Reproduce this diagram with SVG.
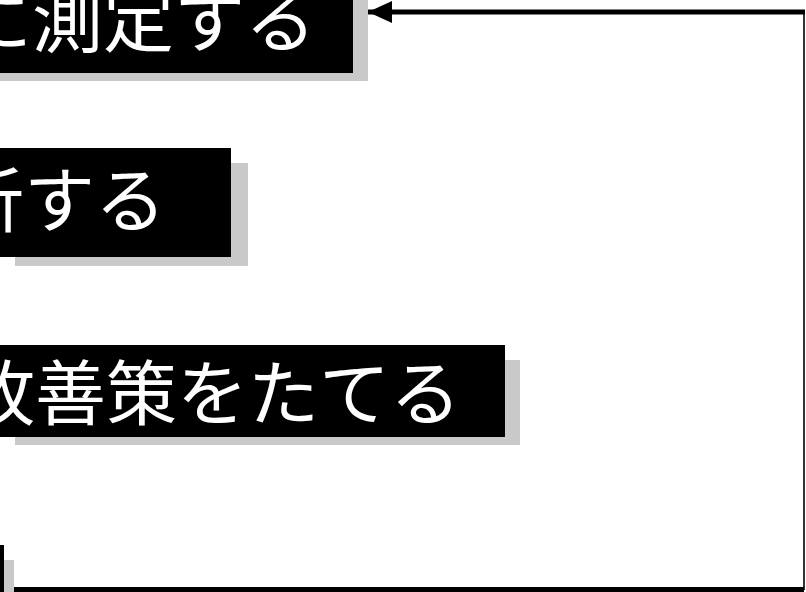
<svg xmlns="http://www.w3.org/2000/svg" width="806" height="592" viewBox="0 0 806 592">
<defs>
<style>
.box{fill:#000}
.shadow{fill:#c9c9c9}
.lbl{font-family:"Noto Sans CJK JP","Noto Sans CJK SC",sans-serif;font-size:71px;fill:#fff;text-anchor:end}
.conn{fill:none;stroke:#000;stroke-linejoin:miter}
</style>
<marker id="arrow" markerUnits="userSpaceOnUse" markerWidth="24" markerHeight="22" refX="24" refY="11" orient="auto">
<path d="M0,0 L24,11 L0,22 z" fill="#000"/>
</marker>
</defs>
<rect width="806" height="592" fill="#fff"/>
<g id="node1">
<rect class="shadow" x="0" y="0" width="368" height="81"/>
<rect class="box" x="0" y="0" width="353" height="73"/>
<text class="lbl" x="316" y="46">に測定する</text>
</g>
<g id="node2">
<rect class="shadow" x="15" y="163" width="233" height="103"/>
<rect class="box" x="0" y="148" width="231" height="109"/>
<text class="lbl" x="166" y="226">析する</text>
</g>
<g id="node3">
<rect class="shadow" x="15" y="360" width="505" height="85"/>
<rect class="box" x="0" y="345" width="505" height="92"/>
<text class="lbl" x="461" y="419">改善策をたてる</text>
</g>
<g id="node4">
<rect class="shadow" x="4" y="560" width="10" height="32"/>
<rect class="box" x="0" y="545" width="4" height="47"/>
</g>
<g id="connectors">
<path class="conn" d="M14,589.5 H804" stroke-width="5"/>
<path class="conn" d="M804,590 V12" stroke-width="1.6" stroke="#333"/>
<path class="conn" d="M805,12 H368" stroke-width="5" marker-end="url(#arrow)"/>
</g>
</svg>
